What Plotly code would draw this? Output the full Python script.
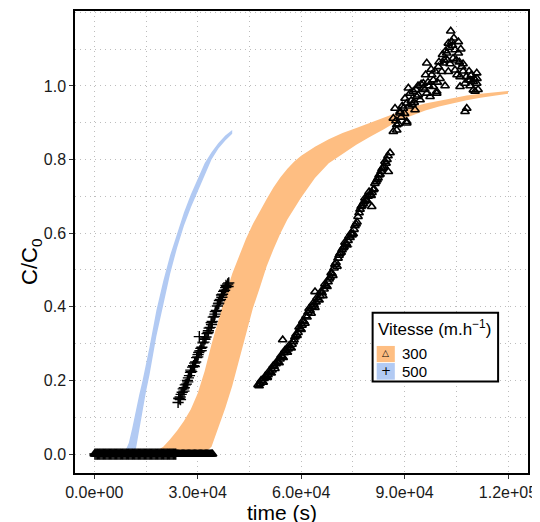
import plotly.graph_objects as go

# ---- model ribbons (C/C0 band) ----
blue_t = [0, 8000, 9000, 10000, 11000, 12000, 13000, 14000, 15000, 16000,
          18000, 20000, 22000, 24000, 26000, 28000, 30000, 32000, 34000, 36000, 38000, 40000]
blue_hi = [0, 0, 0.008, 0.03, 0.07, 0.12, 0.16, 0.20, 0.245, 0.29,
           0.39, 0.47, 0.54, 0.60, 0.656, 0.705, 0.75, 0.79, 0.82, 0.845, 0.865, 0.88]
blue_lo = [0, 0, 0, 0, 0, 0.01, 0.065, 0.12, 0.17, 0.215,
           0.32, 0.405, 0.49, 0.56, 0.62, 0.67, 0.715, 0.76, 0.80, 0.83, 0.852, 0.87]

orange_t = [0, 15000, 18000, 20000, 22000, 24000, 26000, 28000, 30000, 32000,
            34000, 36000, 38000, 40000, 42000, 44000, 46000, 48000, 50000, 52000,
            54000, 56000, 58000, 60000, 64000, 68000, 72000, 76000, 80000, 84000,
            88000, 92000, 96000, 100000, 104000, 108000, 112000, 116000, 120000]
orange_hi = [0, 0, 0.008, 0.02, 0.04, 0.063, 0.09, 0.122, 0.165, 0.225,
             0.298, 0.367, 0.43, 0.49, 0.54, 0.585, 0.625, 0.66, 0.693, 0.725,
             0.752, 0.775, 0.795, 0.81, 0.835, 0.855, 0.872, 0.886, 0.90, 0.915,
             0.93, 0.942, 0.952, 0.96, 0.967, 0.974, 0.979, 0.983, 0.986]
orange_lo = [0, 0, 0, 0, 0, 0, 0, 0, 0, 0.002,
             0.02, 0.07, 0.125, 0.185, 0.255, 0.33, 0.396, 0.452, 0.51, 0.557,
             0.60, 0.637, 0.667, 0.697, 0.75, 0.79, 0.815, 0.84, 0.862, 0.882,
             0.905, 0.92, 0.933, 0.944, 0.953, 0.961, 0.968, 0.974, 0.979]

# ---- measured points ----
zero_t_300 = [0, 350, 700, 1050, 1400, 1750, 2100, 2450, 2800, 3150, 3500, 3850,
              4200, 4550, 4900, 5250, 5600, 5950, 6300, 6650, 7000, 7350, 7700,
              8050, 8400, 8750, 9100, 9450, 9800, 10150, 10500, 10850, 11200,
              11550, 11900, 12250, 12600, 12950, 13300, 13650, 14000, 14350,
              14700, 15050, 15400, 15750, 16100, 16450, 16800, 17150, 17500,
              17850, 18200, 18550, 18900, 19250, 19600, 19950, 20300, 20650,
              21000, 21350, 21700, 22050, 22400, 22750, 23100, 23450, 23800,
              24150, 24500, 24850, 25200, 25550, 25900, 26250, 26600, 26950,
              27300, 27650, 28000, 28350, 28700, 29050, 29400, 29750, 30100,
              30450, 30800, 31150, 31500, 31850, 32200, 32550, 32900, 33250,
              33600, 33950, 34300]
zero_t_500 = [175, 525, 875, 1225, 1575, 1925, 2275, 2625, 2975, 3325, 3675,
              4025, 4375, 4725, 5075, 5425, 5775, 6125, 6475, 6825, 7175, 7525,
              7875, 8225, 8575, 8925, 9275, 9625, 9975, 10325, 10675, 11025,
              11375, 11725, 12075, 12425, 12775, 13125, 13475, 13825, 14175,
              14525, 14875, 15225, 15575, 15925, 16275, 16625, 16975, 17325,
              17675, 18025, 18375, 18725, 19075, 19425, 19775, 20125, 20475,
              20825, 21175, 21525, 21875, 22225, 22575, 22925, 23275, 23625]

rise_500 = [
    (24300, .140), (24600, .150), (24900, .155), (25200, .162), (25500, .168),
    (25800, .177), (26100, .180), (26400, .188), (26700, .190), (27000, .200),
    (27300, .207), (27600, .213), (27900, .222), (28200, .224), (28500, .236),
    (28800, .240), (29100, .247), (29400, .250), (29700, .262), (30000, .264),
    (30300, .276), (30600, .280), (30900, .287), (31200, .290), (31500, .302),
    (31800, .304), (32100, .312), (32400, .318), (32700, .327), (33000, .330),
    (33300, .342), (33600, .344), (33900, .357), (34200, .360), (34500, .372),
    (34800, .374), (35100, .387), (35400, .390), (35700, .402), (36000, .408),
    (36300, .417), (36600, .420), (36900, .432), (37200, .434), (37500, .442),
    (37800, .445), (38100, .452), (38400, .455), (38700, .462), (39000, .465),
    (30460, .319), (24500, .152), (25000, .148), (26000, .171), (27100, .196),
    (28000, .228), (29000, .238), (30100, .270), (31000, .281), (32000, .315),
    (33100, .335), (34000, .352), (35000, .380), (36100, .410), (37000, .426),
    (38200, .458), (38800, .455),
]

rise_300 = [
    (47490, .188), (48070, .192), (48650, .198), (49230, .205), (49810, .210),
    (50390, .215), (50970, .222), (51550, .228), (52130, .238), (52710, .245),
    (53290, .250), (53870, .258), (54460, .265), (55040, .275), (55620, .280),
    (56200, .285), (56780, .290), (57360, .298), (57940, .310), (58520, .325),
    (59100, .330), (59680, .340), (60260, .350), (60840, .360), (61420, .375),
    (62000, .385), (62580, .390), (63160, .400), (63740, .405), (64320, .413),
    (64900, .420), (65480, .430), (66060, .438), (66640, .448), (67220, .458),
    (67800, .468), (68380, .480), (68960, .490), (69540, .505), (70120, .520),
    (70700, .532), (71280, .545), (71860, .555), (72440, .563), (73020, .572),
    (73600, .580), (74180, .588), (74760, .595), (75340, .610), (75920, .625),
    (76500, .645), (77080, .665), (77660, .675), (78240, .685), (78820, .690),
    (79400, .700), (79980, .705), (80560, .710), (81140, .720), (81720, .740),
    (82300, .750), (82880, .760), (83460, .775), (84040, .782), (84620, .790),
    (85200, .810), (85780, .818),
    (47800, .185), (48400, .200), (49000, .195), (49600, .212), (50200, .208),
    (50700, .225), (51300, .220), (51900, .240), (52400, .232), (53000, .252),
    (53600, .248), (54200, .268), (54800, .262), (55300, .282), (56000, .276),
    (56500, .295), (57100, .288), (57700, .305), (58200, .318), (58800, .322),
    (59400, .345), (60000, .338), (60500, .362), (61100, .355), (61700, .372),
    (62300, .395), (62900, .382), (63500, .410), (64000, .398), (64600, .425),
    (65200, .418), (65800, .442), (66300, .430), (66900, .462), (67500, .455),
    (68100, .475), (68700, .492), (69200, .485), (69800, .515), (70400, .510),
    (71000, .540), (71600, .548), (72200, .560), (72700, .575), (73300, .568),
    (73900, .592), (74500, .600), (75100, .598), (75600, .620), (76200, .630),
    (76800, .655), (77400, .672), (78000, .680), (78500, .695), (79100, .688),
    (79700, .712), (80300, .702), (80900, .718), (81400, .735), (82000, .745),
    (82600, .758), (83200, .768), (83800, .778), (84300, .795), (84900, .800),
    (54650, .310), (64020, .441), (80470, .672), (85290, .767),
]

top_300 = [
    (86740, .876), (87730, .880), (87730, .894), (86740, .912), (88680, .926),
    (89640, .939), (90630, .899), (90630, .903), (87230, .939), (90130, .966),
    (91090, .994), (90630, .953), (88680, .930), (93030, .935), (91580, .980),
    (93530, .971), (94490, .962), (95440, .994), (96430, .980), (97390, .971),
    (99330, .980), (99330, .985), (98340, 1.016), (95440, 1.007), (98340, .998),
    (96430, 1.062), (97880, 1.030), (99790, 1.052), (100780, 1.039), (101240, 1.062),
    (102230, 1.089), (102700, 1.116), (103390, 1.149), (103680, 1.120), (104640, 1.098),
    (105600, 1.120), (105600, 1.089), (102700, 1.039), (104640, 1.043), (106580, 1.052),
    (106090, 1.025), (107540, 1.007), (108500, 1.016), (108990, 1.016), (110930, 1.035),
    (109950, 1.012), (110930, 1.007), (110440, .985), (109950, .989), (108030, .939),
    (107540, .930), (106090, .998), (101740, 1.000), (100290, 1.020), (93910, 1.000),
    (92160, .950), (96810, 1.010), (103190, 1.060), (104060, 1.075), (101450, 1.070),
    (106960, 1.060), (105220, 1.030), (108990, 1.000), (111310, .990),
    (89000, .915), (89300, .945), (90000, .925), (91900, .960), (92500, .985),
    (93300, .990), (94000, .975), (94800, 1.005), (95900, .990), (96100, 1.030),
    (97000, 1.000), (97700, 1.045), (98800, 1.040), (99500, 1.010), (100000, 1.065),
    (101000, 1.085), (101900, 1.095), (102400, 1.070), (103000, 1.105), (103900, 1.110),
    (104300, 1.130), (105000, 1.070), (105900, 1.065), (106300, 1.100), (107000, 1.040),
    (107900, 1.025), (108700, 1.040), (109400, 1.030), (110200, 1.020), (111000, 1.020),
    (87500, .905), (88200, .897), (91300, .945), (92800, .955),
]

x_tickvals = [0, 30000, 60000, 90000, 120000]
x_ticktext = ["0.0e+00", "3.0e+04", "6.0e+04", "9.0e+04", "1.2e+05"]
y_tickvals = [0.0, 0.2, 0.4, 0.6, 0.8, 1.0]

ORANGE = "#FEBE82"
BLUE = "#B2CAF3"
GRID = "#BDBDBD"
FONT = "Liberation Sans, Arial, sans-serif"

tri_t = zero_t_300 + [p[0] for p in rise_300] + [p[0] for p in top_300]
tri_c = [0.0] * len(zero_t_300) + [p[1] for p in rise_300] + [p[1] for p in top_300]
plus_t = zero_t_500 + [p[0] for p in rise_500]
plus_c = [0.0] * len(zero_t_500) + [p[1] for p in rise_500]

fig = go.Figure()


def ribbon(t, lo, hi, color):
    fig.add_trace(go.Scatter(x=t, y=lo, mode="lines", line=dict(width=0, color=color),
                             showlegend=False, hoverinfo="skip"))
    fig.add_trace(go.Scatter(x=t, y=hi, mode="lines", line=dict(width=0, color=color),
                             fill="tonexty", fillcolor=color, showlegend=False,
                             hoverinfo="skip"))


ribbon(orange_t, orange_lo, orange_hi, ORANGE)
ribbon(blue_t, blue_lo, blue_hi, BLUE)

fig.add_trace(go.Scatter(
    x=tri_t, y=tri_c, mode="markers", showlegend=False,
    marker=dict(symbol="triangle-up-open", size=7.5, color="black",
                line=dict(width=1.6, color="black")),
))
fig.add_trace(go.Scatter(
    x=plus_t, y=plus_c, mode="markers", showlegend=False,
    marker=dict(symbol="cross-thin-open", size=8, color="black",
                line=dict(width=1.4, color="black")),
))

axis_common = dict(
    showline=True, linecolor="black", linewidth=1.5, mirror=True,
    ticks="outside", ticklen=4, tickwidth=1, tickcolor="#333333",
    showgrid=True, gridcolor=GRID, gridwidth=1, griddash="1px,4px",
    zeroline=False, automargin=False,
    tickfont=dict(size=16, color="#1a1a1a", family=FONT),
)

fig.update_xaxes(
    range=[-5600, 125800], tickvals=x_tickvals, ticktext=x_ticktext,
    minor=dict(dtick=15000, tick0=0, showgrid=True, gridcolor=GRID,
               griddash="1px,4px", ticks=""),
    **axis_common,
)
fig.update_yaxes(
    range=[-0.0515, 1.2035], tickvals=y_tickvals, tickformat=".1f",
    minor=dict(dtick=0.1, tick0=0, showgrid=True, gridcolor=GRID,
               griddash="1px,4px", ticks=""),
    **axis_common,
)

# legend drawn by hand (fill key with point on top, like ggplot)
shapes = [
    dict(type="rect", xref="paper", yref="paper", x0=0.657, x1=0.934, y0=0.198, y1=0.347,
         line=dict(color="black", width=2), fillcolor="white", layer="above"),
    dict(type="rect", xref="paper", yref="paper", x0=0.666, x1=0.706, y0=0.240, y1=0.275,
         line=dict(width=0), fillcolor=ORANGE, layer="above"),
    dict(type="rect", xref="paper", yref="paper", x0=0.666, x1=0.706, y0=0.202, y1=0.238,
         line=dict(width=0), fillcolor=BLUE, layer="above"),
]
annotations = [
    dict(text="Vitesse (m.h<sup>\u22121</sup>)", xref="paper", yref="paper",
         x=0.664, y=0.314, xanchor="left", yanchor="middle", showarrow=False,
         font=dict(size=17, color="black", family=FONT)),
    dict(text="300", xref="paper", yref="paper", x=0.717, y=0.258,
         xanchor="left", yanchor="middle", showarrow=False,
         font=dict(size=15, color="black", family=FONT)),
    dict(text="500", xref="paper", yref="paper", x=0.717, y=0.220,
         xanchor="left", yanchor="middle", showarrow=False,
         font=dict(size=15, color="black", family=FONT)),
    dict(text="\u25b3", xref="paper", yref="paper", x=0.686, y=0.259,
         xanchor="center", yanchor="middle", showarrow=False,
         font=dict(size=9, color="black", family="DejaVu Sans")),
    dict(text="+", xref="paper", yref="paper", x=0.686, y=0.221,
         xanchor="center", yanchor="middle", showarrow=False,
         font=dict(size=12, color="black", family="DejaVu Sans")),
    dict(text="time (s)", xref="paper", yref="paper", x=0.456, y=-0.0845,
         xanchor="center", yanchor="middle", showarrow=False,
         font=dict(size=21, color="black", family=FONT)),
    dict(text="C/C<sub>0</sub>", xref="paper", yref="paper", x=-0.097, y=0.457,
         xanchor="center", yanchor="middle", showarrow=False, textangle=-90,
         font=dict(size=22, color="black", family=FONT)),
]

# the page body adds an 8px margin, so the figure is 8px smaller and margins shifted
fig.update_layout(
    width=532, height=514,
    margin=dict(l=67, r=12, t=3, b=49),
    paper_bgcolor="white", plot_bgcolor="white",
    font=dict(family=FONT, color="black"),
    showlegend=False,
    shapes=shapes, annotations=annotations,
)

fig.write_html("out.html")
